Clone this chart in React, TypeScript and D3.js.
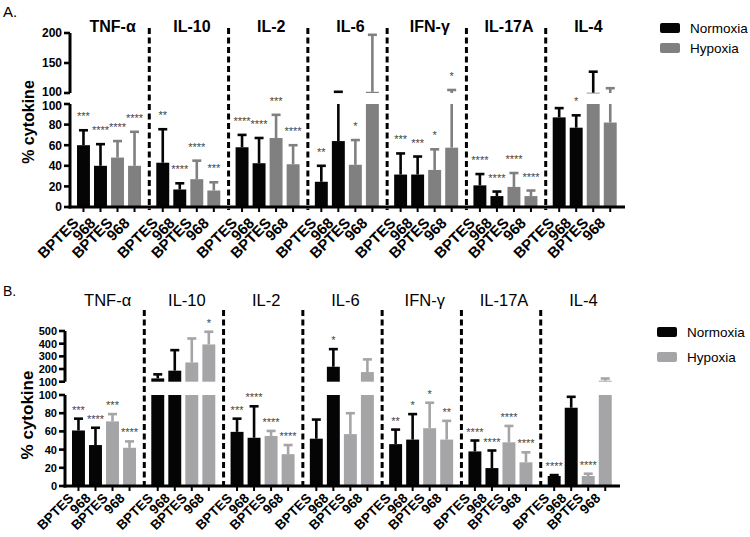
import React from "react";
import * as d3 from "d3";

const cytokines = ["TNF-α", "IL-10", "IL-2", "IL-6", "IFN-γ", "IL-17A", "IL-4"];
const treatments = ["BPTES", "968", "BPTES", "968"];
const oxygenOfBar = ["Normoxia", "Normoxia", "Hypoxia", "Hypoxia"];
const legendItems = ["Normoxia", "Hypoxia"];

// Panel A: mean and top of error bar per cytokine (4 bars each)
const meansA = [
  [60, 40, 48, 40],
  [43, 17, 27, 16],
  [58, 42.5, 67, 41.5],
  [24.5, 64, 41, 102],
  [31.5, 31.5, 36, 57.6],
  [21, 10.6, 19.5, 10.6],
  [87, 77, 100.5, 82],
];
const errorsA = [
  [74.5, 61, 64, 73],
  [75.5, 23, 45, 24],
  [70, 67, 89.5, 60],
  [40, 102, 65, 197],
  [52, 49, 56, 105],
  [32, 15, 33, 16],
  [96, 89, 135.5, 108],
];
const starsA = [
  ["***", "****", "****", "****"],
  ["**", "****", "****", "***"],
  ["****", "****", "***", "****"],
  ["**", "", "*", ""],
  ["***", "***", "*", "*"],
  ["****", "****", "****", "****"],
  ["", "*", "", ""],
];
const darkErrorsA = [[6, 2]];
const ticksLowA = [0, 20, 40, 60, 80, 100];
const ticksHighA = [100, 150, 200];

// Panel B
const meansB = [
  [61, 45, 71, 42],
  [126, 187, 252, 394],
  [59.5, 53, 55, 35],
  [52, 218, 57, 176],
  [46, 51, 63.5, 51],
  [38, 19.7, 48, 26],
  [11, 86, 11, 108],
];
const errorsB = [
  [74, 64, 79, 49],
  [158, 349, 441, 494],
  [74, 87.6, 60.5, 45],
  [73, 357, 80, 276],
  [62, 79, 91.5, 71.6],
  [50, 39, 66, 37],
  [12, 98, 13.5, 125],
];
const starsB = [
  ["***", "****", "***", "****"],
  ["", "", "", "*"],
  ["***", "****", "****", "****"],
  ["", "*", "", ""],
  ["**", "*", "*", "**"],
  ["****", "****", "****", "****"],
  ["****", "", "****", ""],
];
const darkErrorsB: number[][] = [];
const ticksLowB = [0, 20, 40, 60, 80, 100];
const ticksHighB = [100, 200, 300, 400, 500];

const FONT = "'Liberation Sans', Arial, Helvetica, sans-serif";

type Cfg = {
  letter: string;
  letterY: number;
  letterSize: number;
  means: number[][];
  errors: number[][];
  stars: string[][];
  darkErrors: number[][];
  ticksLow: number[];
  ticksHigh: number[];
  highMax: number;
  axisX: number;
  xEnd: number;
  baseY: number;
  lowTopY: number;
  highBottomY: number;
  highTopY: number;
  sepTop: number;
  sepBottom: number;
  titleY: number;
  titleBold: boolean;
  titleSize: number;
  gray: string;
  starGap: number;
  tickSize: number;
  breakNudge: number;
  xLabelSize: number;
  xLabelDy: number;
  yLabelX: number;
  yLabelY: number;
  yLabelSize: number;
  legendX: number;
  legendY: number;
  legendGap: number;
};

function Panel({ cfg }: { cfg: Cfg }) {
  const x0 = d3.scaleBand<string>().domain(cytokines).range([cfg.axisX, cfg.xEnd]).padding(0);
  const x1 = d3.scaleBand<number>().domain(d3.range(4)).range([7, 71]).paddingInner(0.24).paddingOuter(0);
  const yLow = d3.scaleLinear().domain([0, 100]).range([cfg.baseY, cfg.lowTopY]);
  const yHigh = d3.scaleLinear().domain([100, cfg.highMax]).range([cfg.highBottomY, cfg.highTopY]);
  const bw = x1.bandwidth();
  const colorOf = (i: number) => (oxygenOfBar[i] === "Normoxia" ? "#050505" : cfg.gray);

  const elems: React.ReactNode[] = [];
  cytokines.forEach((c, g) => {
    treatments.forEach((t, i) => {
      const x = (x0(c) as number) + (x1(i) as number);
      const cx = x + bw / 2;
      const v = cfg.means[g][i];
      const e = cfg.errors[g][i];
      const col = colorOf(i);
      const dark = cfg.darkErrors.some((d) => d[0] === g && d[1] === i);
      const ecol = dark ? "#050505" : col;
      const key = `${g}-${i}`;
      const yl = yLow(Math.min(v, 100));
      elems.push(<rect key={"bl" + key} x={x} y={yl} width={bw} height={cfg.baseY - yl} fill={col} />);
      if (v > 100) {
        const yh = yHigh(v);
        elems.push(
          <rect key={"bh" + key} x={x} y={yh} width={bw} height={Math.max(0.8, cfg.highBottomY - yh)} fill={col} />
        );
      }
      let errY: number;
      if (e <= 100) {
        errY = yLow(e);
        elems.push(<line key={"es" + key} x1={cx} x2={cx} y1={yLow(v)} y2={errY} stroke={ecol} strokeWidth={2.6} />);
      } else {
        errY = yHigh(e);
        if (v < 100) {
          elems.push(
            <line key={"esl" + key} x1={cx} x2={cx} y1={yLow(v)} y2={cfg.lowTopY} stroke={ecol} strokeWidth={2.6} />
          );
        }
        elems.push(
          <line key={"esh" + key} x1={cx} x2={cx} y1={yHigh(Math.max(v, 100))} y2={errY} stroke={ecol} strokeWidth={2.6} />
        );
      }
      elems.push(
        <line key={"ec" + key} x1={cx - 4.5} x2={cx + 4.5} y1={errY} y2={errY} stroke={ecol} strokeWidth={2.6} />
      );
      const s = cfg.stars[g][i];
      if (s) {
        elems.push(
          <text key={"st" + key} x={cx} y={errY - cfg.starGap + 6} textAnchor="middle" fontSize={11} fill="#444" fontFamily={FONT}>
            {s}
          </text>
        );
      }
      // x tick + label
      elems.push(
        <line key={"xt" + key} x1={cx} x2={cx} y1={cfg.baseY} y2={cfg.baseY + 5} stroke="#000" strokeWidth={2} />
      );
      elems.push(
        <text
          key={"xl" + key}
          transform={`translate(${cx - 4},${cfg.baseY + cfg.xLabelDy}) rotate(-45)`}
          textAnchor="end"
          fontSize={cfg.xLabelSize}
          fontWeight="bold"
          fontFamily={FONT}
          fill="#000"
        >
          {t}
        </text>
      );
    });
    // title
    elems.push(
      <text
        key={"title" + g}
        x={(x0(c) as number) + x0.bandwidth() / 2 + 3}
        y={cfg.titleY}
        textAnchor="middle"
        fontSize={cfg.titleSize}
        fontWeight={cfg.titleBold ? "bold" : "normal"}
        fontFamily={FONT}
        fill="#000"
      >
        {c}
      </text>
    );
    if (g > 0) {
      const sx = x0(c) as number;
      elems.push(
        <line key={"sep" + g} x1={sx} x2={sx} y1={cfg.sepTop} y2={cfg.sepBottom} stroke="#000" strokeWidth={3} strokeDasharray="6,3.5" />
      );
    }
  });

  const ax = cfg.axisX;
  const lowMax = d3.max(cfg.ticksLow) as number;
  const highMin = d3.min(cfg.ticksHigh) as number;
  return (
    <g>
      <text x={3} y={cfg.letterY} fontSize={cfg.letterSize} fontFamily={FONT} fill="#000">
        {cfg.letter}
      </text>
      {/* y axis */}
      <line x1={ax} x2={ax} y1={cfg.baseY + 1.5} y2={cfg.lowTopY} stroke="#000" strokeWidth={3} />
      <line x1={ax} x2={ax} y1={cfg.highBottomY} y2={cfg.highTopY} stroke="#000" strokeWidth={3} />
      {cfg.ticksLow.map((t) => (
        <g key={"tl" + t}>
          <line x1={ax - 6} x2={ax} y1={yLow(t)} y2={yLow(t)} stroke="#000" strokeWidth={2.6} />
          <text
            x={ax - 8}
            y={yLow(t) + (t === lowMax ? cfg.breakNudge : 0)}
            dy="0.36em"
            textAnchor="end"
            fontSize={cfg.tickSize}
            fontWeight="bold"
            fontFamily={FONT}
          >
            {t}
          </text>
        </g>
      ))}
      {cfg.ticksHigh.map((t) => (
        <g key={"th" + t}>
          <line x1={ax - 6} x2={ax} y1={yHigh(t)} y2={yHigh(t)} stroke="#000" strokeWidth={2.6} />
          <text
            x={ax - 8}
            y={yHigh(t) - (t === highMin ? cfg.breakNudge : 0)}
            dy="0.36em"
            textAnchor="end"
            fontSize={cfg.tickSize}
            fontWeight="bold"
            fontFamily={FONT}
          >
            {t}
          </text>
        </g>
      ))}
      <text
        transform={`translate(${cfg.yLabelX},${cfg.yLabelY}) rotate(-90)`}
        textAnchor="middle"
        dy="0.35em"
        fontSize={cfg.yLabelSize}
        fontWeight="bold"
        fontFamily={FONT}
      >
        % cytokine
      </text>
      {elems}
      {/* x axis */}
      <line x1={ax - 1.5} x2={cfg.xEnd} y1={cfg.baseY} y2={cfg.baseY} stroke="#000" strokeWidth={3} />
      {/* legend */}
      {legendItems.map((l, k) => (
        <g key={"lg" + l}>
          <rect
            x={cfg.legendX}
            y={cfg.legendY + k * cfg.legendGap}
            width={20}
            height={10}
            rx={2}
            fill={k === 0 ? "#050505" : cfg.gray}
          />
          <text
            x={cfg.legendX + 30}
            y={cfg.legendY + k * cfg.legendGap + 5}
            dy="0.36em"
            fontSize={13.5}
            fontFamily={FONT}
            fill="#000"
          >
            {l}
          </text>
        </g>
      ))}
    </g>
  );
}

const cfgA: Cfg = {
  letter: "A.",
  letterY: 17,
  letterSize: 15,
  means: meansA,
  errors: errorsA,
  stars: starsA,
  darkErrors: darkErrorsA,
  ticksLow: ticksLowA,
  ticksHigh: ticksHighA,
  highMax: 200,
  axisX: 70,
  xEnd: 625,
  baseY: 207,
  lowTopY: 104,
  highBottomY: 93,
  highTopY: 33,
  sepTop: 28,
  sepBottom: 210,
  titleY: 32,
  titleBold: true,
  titleSize: 16,
  gray: "#808080",
  starGap: 16,
  tickSize: 12,
  breakNudge: 1.5,
  xLabelSize: 15,
  xLabelDy: 17,
  yLabelX: 28,
  yLabelY: 122,
  yLabelSize: 16,
  legendX: 660,
  legendY: 23,
  legendGap: 20,
};

const cfgB: Cfg = {
  letter: "B.",
  letterY: 296,
  letterSize: 14,
  means: meansB,
  errors: errorsB,
  stars: starsB,
  darkErrors: darkErrorsB,
  ticksLow: ticksLowB,
  ticksHigh: ticksHighB,
  highMax: 500,
  axisX: 65,
  xEnd: 620,
  baseY: 486,
  lowTopY: 395,
  highBottomY: 381.7,
  highTopY: 331,
  sepTop: 310,
  sepBottom: 488,
  titleY: 306,
  titleBold: false,
  titleSize: 16.5,
  gray: "#a5a5a8",
  starGap: 11,
  tickSize: 11,
  breakNudge: 0,
  xLabelSize: 13.5,
  xLabelDy: 13,
  yLabelX: 27,
  yLabelY: 415,
  yLabelSize: 17,
  legendX: 657,
  legendY: 327,
  legendGap: 25,
};

export default function App() {
  return (
    <svg
      width={750}
      height={537}
      viewBox="0 0 750 537"
      style={{ position: "absolute", left: 0, top: 0, background: "#fff", display: "block" }}
      fontFamily={FONT}
    >
      <rect x={0} y={0} width={750} height={537} fill="#fff" />
      <Panel cfg={cfgA} />
      <Panel cfg={cfgB} />
    </svg>
  );
}
